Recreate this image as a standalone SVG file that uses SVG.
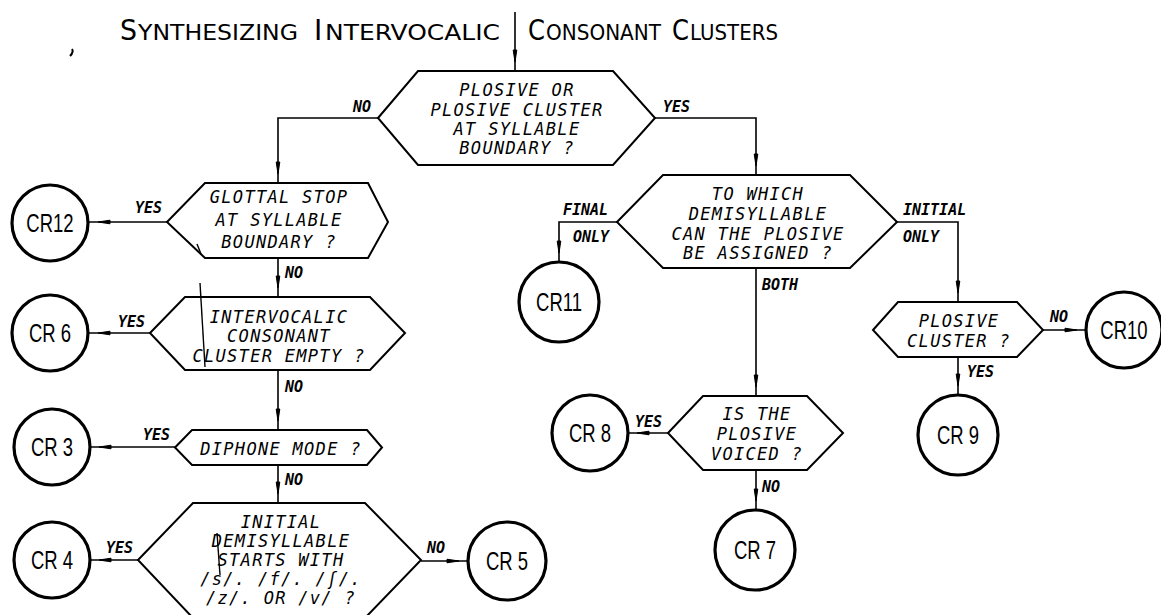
<svg xmlns="http://www.w3.org/2000/svg" width="1161" height="615" viewBox="0 0 1161 615">
<style>
.bg{fill:#ffffff}
.hex{fill:#ffffff;stroke:#000;stroke-width:2;stroke-linejoin:miter}
.term{fill:#ffffff;stroke:#000;stroke-width:3.2}
.conn{fill:none;stroke:#000;stroke-width:1.6}
.ht{font-family:"DejaVu Sans Mono","Liberation Mono",monospace;font-style:oblique;font-size:17px;letter-spacing:1.3px;fill:#000;text-anchor:middle}
.lbl{font-family:"DejaVu Sans Mono","Liberation Mono",monospace;font-style:oblique;font-weight:bold;font-size:15px;fill:#000}
.ct{font-family:"Liberation Sans","DejaVu Sans",sans-serif;font-size:25px;fill:#000;text-anchor:middle}
.title{font-family:"DejaVu Sans","Liberation Sans",sans-serif;fill:#000}
.big{font-size:28px}
.sm{font-size:22px}
.stray{fill:none;stroke:#000;stroke-width:1.4}
</style>
<defs>
<marker id="arr" markerUnits="userSpaceOnUse" viewBox="0 0 24 8" refX="24" refY="4" markerWidth="24" markerHeight="8" orient="auto" overflow="visible">
<path d="M3 2.2 L15 4 L3 5.8 Z" fill="#000" stroke="#000" stroke-width="1"/>
</marker>
</defs>
<rect class="bg" x="0" y="0" width="1161" height="615"/>

<g id="title">
<text class="title big" x="120" y="40" textLength="17" lengthAdjust="spacingAndGlyphs">S</text>
<text class="title sm" x="138" y="40" textLength="160" lengthAdjust="spacingAndGlyphs">YNTHESIZING</text>
<text class="title big" x="314" y="40">I</text>
<text class="title sm" x="325" y="40" textLength="175" lengthAdjust="spacingAndGlyphs">NTERVOCALIC</text>
<text class="title big" x="528" y="40" textLength="17" lengthAdjust="spacingAndGlyphs">C</text>
<text class="title sm" x="546" y="40" textLength="115" lengthAdjust="spacingAndGlyphs">ONSONANT</text>
<text class="title big" x="672" y="40" textLength="17" lengthAdjust="spacingAndGlyphs">C</text>
<text class="title sm" x="690" y="40" textLength="88" lengthAdjust="spacingAndGlyphs">LUSTERS</text>
</g>

<g id="connectors">
<path class="conn" d="M515 12 V71" marker-end="url(#arr)"/>
<path class="conn" d="M378 118 H278 V183" marker-end="url(#arr)"/>
<path class="conn" d="M655 118 H756 V175" marker-end="url(#arr)"/>
<path class="conn" d="M167 222 H89" marker-end="url(#arr)"/>
<path class="conn" d="M278 258 V297" marker-end="url(#arr)"/>
<path class="conn" d="M150 333 H89" marker-end="url(#arr)"/>
<path class="conn" d="M278 370 V430" marker-end="url(#arr)"/>
<path class="conn" d="M175 447 H90" marker-end="url(#arr)"/>
<path class="conn" d="M278 465 V503" marker-end="url(#arr)"/>
<path class="conn" d="M138 560 H90" marker-end="url(#arr)"/>
<path class="conn" d="M421 561 H468" marker-end="url(#arr)"/>
<path class="conn" d="M617 222 H559 V262" marker-end="url(#arr)"/>
<path class="conn" d="M756 268 V396" marker-end="url(#arr)"/>
<path class="conn" d="M897 222 H958 V302" marker-end="url(#arr)"/>
<path class="conn" d="M1043 330 H1086" marker-end="url(#arr)"/>
<path class="conn" d="M958 357 V395" marker-end="url(#arr)"/>
<path class="conn" d="M668 433 H628" marker-end="url(#arr)"/>
<path class="conn" d="M756 470 V510" marker-end="url(#arr)"/>
</g>

<g id="labels">
<text class="lbl" x="353" y="112">NO</text>
<text class="lbl" x="663" y="112">YES</text>
<text class="lbl" x="135" y="213">YES</text>
<text class="lbl" x="285" y="278">NO</text>
<text class="lbl" x="118" y="327">YES</text>
<text class="lbl" x="285" y="392">NO</text>
<text class="lbl" x="143" y="440">YES</text>
<text class="lbl" x="285" y="485">NO</text>
<text class="lbl" x="106" y="553">YES</text>
<text class="lbl" x="427" y="553">NO</text>
<text class="lbl" x="563" y="215">FINAL</text>
<text class="lbl" x="573" y="242">ONLY</text>
<text class="lbl" x="903" y="215">INITIAL</text>
<text class="lbl" x="903" y="242">ONLY</text>
<text class="lbl" x="762" y="290">BOTH</text>
<text class="lbl" x="1050" y="322">NO</text>
<text class="lbl" x="967" y="377">YES</text>
<text class="lbl" x="635" y="427">YES</text>
<text class="lbl" x="762" y="492">NO</text>
</g>

<g id="d-plosive-boundary">
<polygon class="hex" points="378,118 418,71 613,71 655,118 613,165 418,165"/>
<text class="ht" x="517" y="96">PLOSIVE OR</text>
<text class="ht" x="517" y="116">PLOSIVE CLUSTER</text>
<text class="ht" x="517" y="135">AT SYLLABLE</text>
<text class="ht" x="517" y="154">BOUNDARY ?</text>
</g>

<g id="d-glottal">
<polygon class="hex" points="167,222 205,183 368,183 388,222 368,258 205,258"/>
<text class="ht" x="279" y="203">GLOTTAL STOP</text>
<text class="ht" x="279" y="226">AT SYLLABLE</text>
<text class="ht" x="279" y="248">BOUNDARY ?</text>
</g>

<g id="d-empty">
<polygon class="hex" points="150,333 185,297 370,297 405,333 370,370 185,370"/>
<text class="ht" x="279" y="323">INTERVOCALIC</text>
<text class="ht" x="279" y="342">CONSONANT</text>
<text class="ht" x="279" y="362">CLUSTER EMPTY ?</text>
</g>

<g id="d-diphone">
<polygon class="hex" points="175,447.5 192,430 367,430 382,447.5 367,465 192,465"/>
<text class="ht" x="281" y="455">DIPHONE MODE ?</text>
</g>

<g id="d-initial">
<polygon class="hex" points="138,560 193,503 365,503 421,560 365,618 193,618"/>
<text class="ht" x="281" y="528">INITIAL</text>
<text class="ht" x="281" y="547">DEMISYLLABLE</text>
<text class="ht" x="281" y="566">STARTS WITH</text>
<text class="ht" x="281" y="585">/s/. /f/. /ʃ/.</text>
<text class="ht" x="281" y="604">/z/. OR /v/ ?</text>
</g>

<g id="d-which">
<polygon class="hex" points="617,222 663,175 850,175 897,222 850,268 663,268"/>
<text class="ht" x="758" y="200">TO WHICH</text>
<text class="ht" x="758" y="220">DEMISYLLABLE</text>
<text class="ht" x="758" y="240">CAN THE PLOSIVE</text>
<text class="ht" x="758" y="259">BE ASSIGNED ?</text>
</g>

<g id="d-voiced">
<polygon class="hex" points="668,433 703,396 807,396 843,433 807,470 703,470"/>
<text class="ht" x="757" y="420">IS THE</text>
<text class="ht" x="757" y="440">PLOSIVE</text>
<text class="ht" x="757" y="460">VOICED ?</text>
</g>

<g id="d-cluster">
<polygon class="hex" points="873,330 898,302 1017,302 1043,330 1017,357 898,357"/>
<text class="ht" x="959" y="327">PLOSIVE</text>
<text class="ht" x="959" y="347">CLUSTER ?</text>
</g>

<g id="cr12"><circle class="term" cx="50" cy="223" r="38"/><text class="ct" transform="translate(50,232) scale(0.74,1)">CR12</text></g>
<g id="cr6"><circle class="term" cx="50" cy="333" r="38"/><text class="ct" transform="translate(50,342) scale(0.74,1)">CR 6</text></g>
<g id="cr3"><circle class="term" cx="52" cy="447" r="38"/><text class="ct" transform="translate(52,456) scale(0.74,1)">CR 3</text></g>
<g id="cr4"><circle class="term" cx="52" cy="560" r="38"/><text class="ct" transform="translate(52,569) scale(0.74,1)">CR 4</text></g>
<g id="cr5"><circle class="term" cx="507" cy="561" r="39"/><text class="ct" transform="translate(507,570) scale(0.74,1)">CR 5</text></g>
<g id="cr11"><circle class="term" cx="559" cy="302" r="40"/><text class="ct" transform="translate(559,311) scale(0.74,1)">CR11</text></g>
<g id="cr8"><circle class="term" cx="590" cy="433" r="38"/><text class="ct" transform="translate(590,442) scale(0.74,1)">CR 8</text></g>
<g id="cr7"><circle class="term" cx="755" cy="550" r="40"/><text class="ct" transform="translate(755,559) scale(0.74,1)">CR 7</text></g>
<g id="cr9"><circle class="term" cx="958" cy="435" r="40"/><text class="ct" transform="translate(958,444) scale(0.74,1)">CR 9</text></g>
<g id="cr10"><circle class="term" cx="1124" cy="330" r="38"/><text class="ct" transform="translate(1124,339) scale(0.74,1)">CR10</text></g>

<g id="marks">
<path d="M72 49 q2 3 -2 7" fill="none" stroke="#000" stroke-width="2"/>
<path class="stray" d="M197 244 L201 254"/>
<path class="stray" d="M200 283 L205 367"/>
<path class="stray" d="M217 533 L220 575"/>
</g>
</svg>
